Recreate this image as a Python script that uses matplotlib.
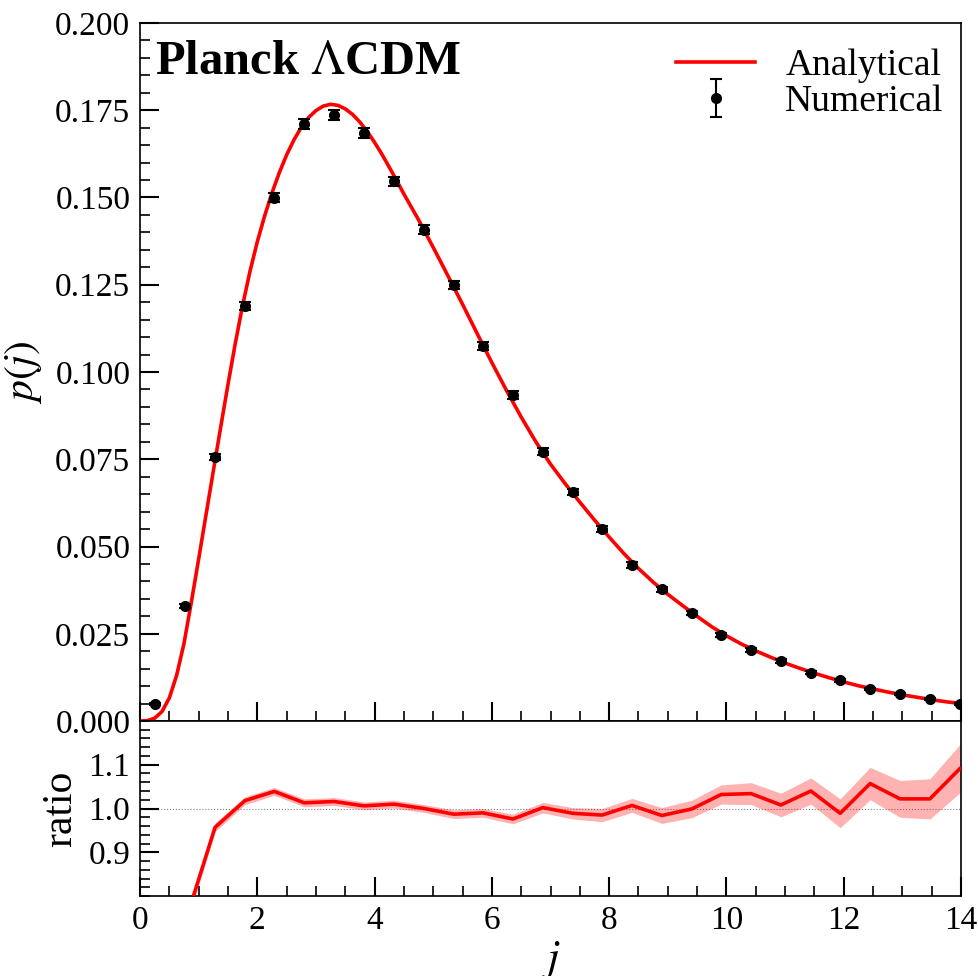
import numpy as np
import matplotlib
matplotlib.use("Agg")
import matplotlib.pyplot as plt
from matplotlib.ticker import MultipleLocator

plt.rcParams['font.family'] = ['Liberation Serif', 'DejaVu Serif']
plt.rcParams['mathtext.fontset'] = 'stix'

# analytical curve
j_curve = [0.0, 0.125, 0.25, 0.375, 0.5, 0.625, 0.75, 0.875, 1.0, 1.125, 1.25, 1.375, 1.5,
           1.625, 1.75, 1.875, 2.0, 2.125, 2.25, 2.375, 2.5, 2.625, 2.75, 2.875, 3.0,
           3.125, 3.25, 3.375, 3.5, 3.625, 3.75, 3.875, 4.0, 4.125, 4.25, 4.375, 4.5,
           4.75, 5.0, 5.25, 5.5, 5.75, 6.0, 6.25, 6.5, 6.75, 7.0, 7.25, 7.5, 7.75, 8.0,
           8.25, 8.5, 8.75, 9.0, 9.25, 9.5, 9.75, 10.0, 10.25, 10.5, 10.75, 11.0, 11.25,
           11.5, 11.75, 12.0, 12.25, 12.5, 12.75, 13.0, 13.25, 13.5, 13.75, 14.0]
p_curve = [0.0, 0.0001, 0.0008, 0.0027, 0.0066, 0.0131, 0.0222, 0.0340, 0.0464, 0.0590,
           0.0716, 0.0841, 0.0964, 0.1082, 0.1191, 0.1288, 0.1373, 0.1447, 0.1513, 0.1571,
           0.1622, 0.1665, 0.1701, 0.1729, 0.1749, 0.1762, 0.1767, 0.1764, 0.1754, 0.1738,
           0.1716, 0.1689, 0.1658, 0.1624, 0.1587, 0.1549, 0.1510,
           0.1436, 0.1357, 0.1276, 0.1194, 0.1110, 0.1027, 0.0947, 0.0871, 0.0800, 0.0736,
           0.0680, 0.0627, 0.0576, 0.0527, 0.0480, 0.0437, 0.0398, 0.0363, 0.0331, 0.0300,
           0.0270, 0.0244, 0.0221, 0.0201, 0.0183, 0.0166, 0.0151, 0.0137, 0.0124, 0.0112,
           0.0101, 0.0092, 0.0083, 0.0075, 0.0068, 0.0061, 0.0055, 0.0050]

# numerical points
j_num = [0.26, 0.77, 1.28, 1.79, 2.29, 2.80, 3.31, 3.82, 4.33, 4.84, 5.35, 5.85, 6.36, 6.87,
         7.38, 7.88, 8.39, 8.90, 9.41, 9.91, 10.42, 10.93, 11.44, 11.94, 12.45, 12.96,
         13.47, 13.98]
p_num = [0.0050, 0.0330, 0.0757, 0.1190, 0.1499, 0.1710, 0.1737, 0.1685, 0.1547, 0.1407,
         0.1249, 0.1075, 0.0934, 0.0771, 0.0656, 0.0550, 0.0447, 0.0378, 0.0309, 0.0246,
         0.0203, 0.0172, 0.0138, 0.0117, 0.0092, 0.0077, 0.0063, 0.0049]
p_err = [0.0003, 0.0006, 0.0009, 0.0011, 0.0013, 0.0014, 0.0014, 0.0014, 0.0013, 0.0013,
         0.0012, 0.0011, 0.0011, 0.0010, 0.0009, 0.0008, 0.0008, 0.0007, 0.0006, 0.0006,
         0.0005, 0.0005, 0.0004, 0.0004, 0.0003, 0.0003, 0.0003, 0.0003]

# ratio panel
ratio = [0.30, 0.74, 0.957, 1.018, 1.039, 1.013, 1.016, 1.006, 1.010, 1.000, 0.987, 0.990,
         0.976, 1.002, 0.989, 0.985, 1.007, 0.984, 0.999, 1.032, 1.034, 1.008, 1.040, 0.989,
         1.057, 1.022, 1.022, 1.091]
ratio_err = [0.030, 0.015, 0.010, 0.009, 0.009, 0.009, 0.009, 0.009, 0.009, 0.009, 0.010,
             0.010, 0.011, 0.012, 0.013, 0.015, 0.016, 0.018, 0.020, 0.022, 0.025, 0.027,
             0.030, 0.033, 0.037, 0.042, 0.046, 0.055]

W, H = 979, 976
fig = plt.figure(figsize=(W / 100, H / 100), dpi=100)
ax1 = fig.add_axes([140 / W, 1 - 721 / H, 821 / W, 698 / H])
ax2 = fig.add_axes([140 / W, 1 - 896 / H, 821 / W, 175 / H], sharex=ax1)

ax1.plot(j_curve, p_curve, color='red', lw=2.6, label='Analytical', zorder=2,
         solid_joinstyle='round')
ax1.errorbar(j_num, p_num, yerr=p_err, fmt='o', color='black', ms=7, capsize=4,
             elinewidth=1.5, capthick=1.5, label='Numerical', zorder=3)

ax1.set_xlim(0, 14)
ax1.set_ylim(0, 0.2)
ax1.set_ylabel(r'$p(j)$', fontsize=30, labelpad=8)
ax1.set_yticks(np.arange(0, 0.2001, 0.025))
ax1.set_yticklabels([f'{v:.3f}' for v in np.arange(0, 0.2001, 0.025)])
ax1.yaxis.set_minor_locator(MultipleLocator(0.005))
ax1.tick_params(labelbottom=False)

ax1.text(0.018, 0.975, r'Planck $\Lambda$CDM', transform=ax1.transAxes, fontsize=35,
         fontweight='bold', va='top', ha='left')

leg = ax1.legend(loc='upper right', frameon=False, fontsize=27, handlelength=2.1,
                 handletextpad=0.8, labelspacing=0.05, borderpad=0.1,
                 borderaxespad=0.3, bbox_to_anchor=(0.997, 0.985))

rlo = np.array(ratio) - np.array(ratio_err)
rhi = np.array(ratio) + np.array(ratio_err)
ax2.axhline(1.0, color='gray', lw=0.8, ls=':', zorder=1)
ax2.fill_between(j_num, rlo, rhi, color='red', alpha=0.3, lw=0, zorder=2)
ax2.plot(j_num, ratio, color='red', lw=2.6, zorder=3)
ax2.set_ylim(0.8, 1.2)
ax2.set_yticks([0.9, 1.0, 1.1])
ax2.yaxis.set_minor_locator(MultipleLocator(0.02))
ax2.set_ylabel('ratio', fontsize=30, labelpad=6)
ax2.set_xlabel(r'$j$', fontsize=32, labelpad=2)
ax2.xaxis.set_major_locator(MultipleLocator(2))
ax2.xaxis.set_minor_locator(MultipleLocator(0.5))

for ax in (ax1, ax2):
    ax.tick_params(which='both', direction='in', top=False, right=False, labelsize=24)
    ax.tick_params(which='major', length=14, width=1.5, pad=7)
    ax.tick_params(which='minor', length=7, width=1.2)
    for s in ax.spines.values():
        s.set_linewidth(1.2)

fig.savefig('out.png', dpi=100)
